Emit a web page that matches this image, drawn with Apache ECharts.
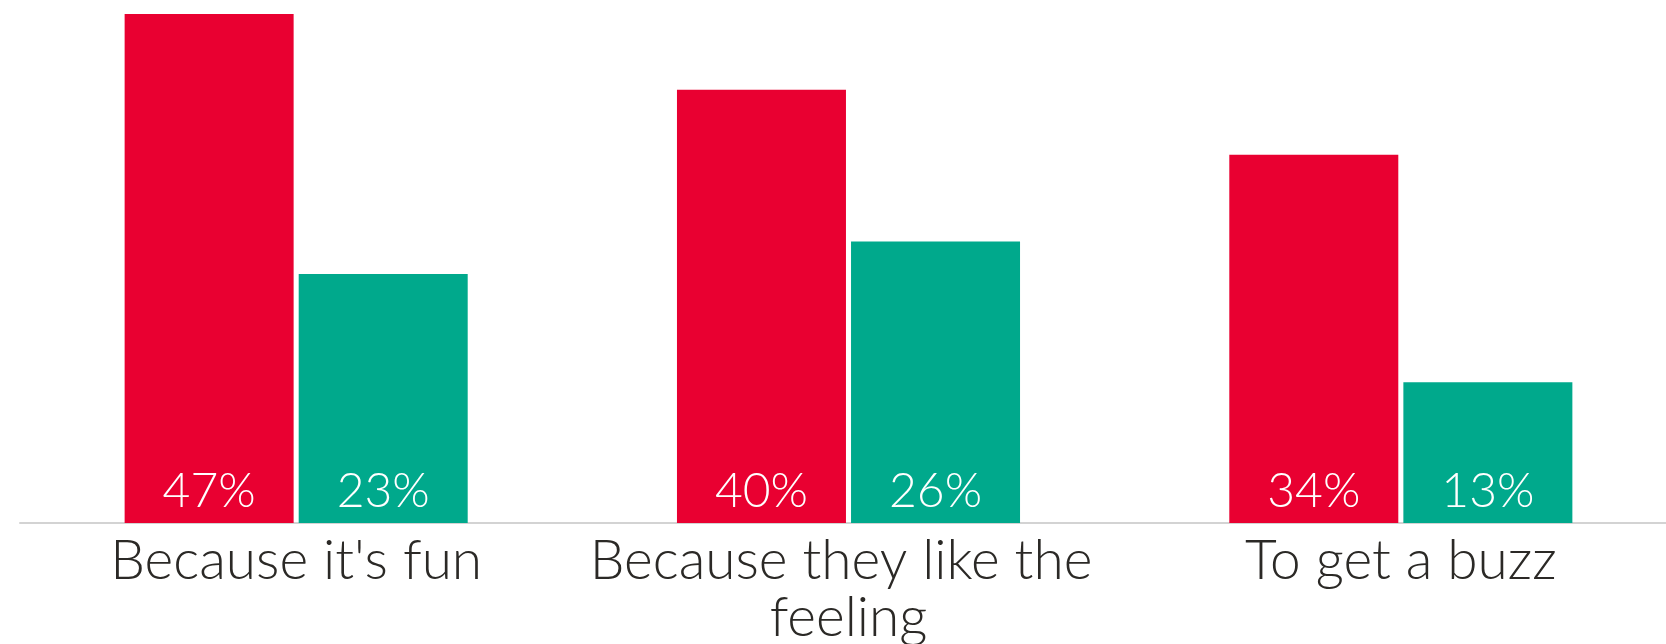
<!DOCTYPE html>
<html>
<head>
<meta charset="utf-8">
<script src="https://cdn.jsdelivr.net/npm/echarts@6/dist/echarts.min.js"></script>
<style>
  html, body { margin: 0; padding: 0; background: #ffffff; }
  #chart { width: 1666px; height: 644px; }
</style>
</head>
<body>
<div id="chart"></div>
<script>
const categories = ["Because it's fun", "Because they like the feeling", "To get a buzz"];
const seriesA = [47, 40, 34];
const seriesB = [23, 26, 13];
const seriesNames = ["Group A", "Group B"];
const colors = ["#E90031", "#00A98C"];

const chart = echarts.init(document.getElementById('chart'));
const labelStyle = {
  show: true,
  position: 'insideBottom',
  distance: 7,
  color: '#ffffff',
  fontFamily: 'Lato',
  fontWeight: 300,
  fontSize: 48,
  formatter: '{c}%'
};
chart.setOption({
  animation: false,
  backgroundColor: '#ffffff',
  grid: { left: 20, right: -11, top: 14, bottom: 121, containLabel: false, outerBoundsMode: 'none' },
  xAxis: {
    type: 'category',
    data: categories,
    axisLine: { show: true, lineStyle: { color: '#d3d3d3', width: 2 } },
    axisTick: { show: false },
    axisLabel: {
      interval: 0,
      margin: 10,
      color: '#2b2926',
      fontFamily: 'Lato',
      fontWeight: 300,
      fontSize: 55,
      lineHeight: 57,
      width: 545,
      overflow: 'break'
    }
  },
  yAxis: {
    type: 'value',
    min: 0,
    max: 47,
    show: false,
    splitLine: { show: false }
  },
  series: [
    {
      name: seriesNames[0],
      type: 'bar',
      data: seriesA,
      barWidth: 169,
      barGap: '3%',
      itemStyle: { color: colors[0] },
      label: labelStyle
    },
    {
      name: seriesNames[1],
      type: 'bar',
      data: seriesB,
      barWidth: 169,
      barGap: '3%',
      itemStyle: { color: colors[1] },
      label: labelStyle
    }
  ]
});
</script>
</body>
</html>
